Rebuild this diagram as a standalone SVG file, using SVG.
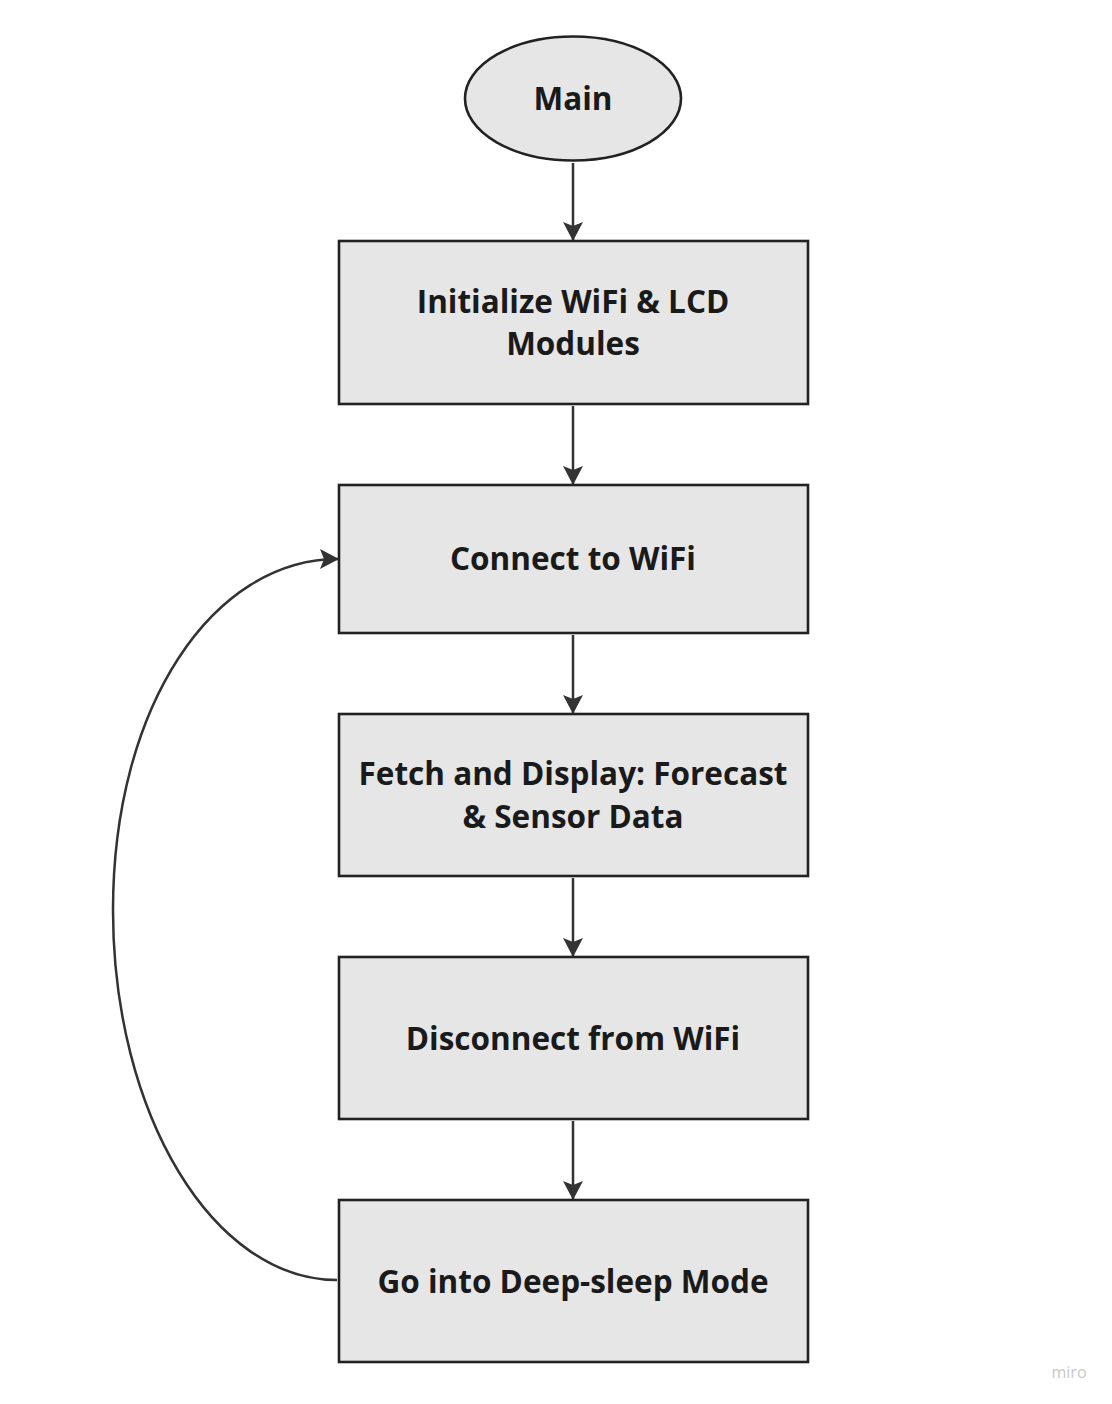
<svg xmlns="http://www.w3.org/2000/svg" width="1112" height="1404" viewBox="0 0 1112 1404">
<style>
.node{fill:#e6e6e6;stroke:#222;stroke-width:2.6}
.lbl{font-family:"Open Sans","Noto Sans",sans-serif;font-weight:700;font-size:31.5px;fill:#1a1a1a;text-anchor:middle}
.edge{fill:none;stroke:#333;stroke-width:2.5}
</style>
<defs>
<marker id="ah" viewBox="0 0 19 20" refX="18" refY="10" markerWidth="19" markerHeight="20" markerUnits="userSpaceOnUse" orient="auto">
<path d="M0,0 L19,10 L0,20 L4,10 z" fill="#333"/>
</marker>
</defs>
<rect width="1112" height="1404" fill="#fff"/>
<g id="connectors">
<line class="edge" x1="573" y1="163" x2="573" y2="240" marker-end="url(#ah)"/>
<line class="edge" x1="573" y1="406" x2="573" y2="484" marker-end="url(#ah)"/>
<line class="edge" x1="573" y1="635" x2="573" y2="713" marker-end="url(#ah)"/>
<line class="edge" x1="573" y1="878" x2="573" y2="956" marker-end="url(#ah)"/>
<line class="edge" x1="573" y1="1121" x2="573" y2="1199" marker-end="url(#ah)"/>
<path class="edge" d="M337,1280 C213,1280 113,1114 113,910 C113,706 213,559 338,559" marker-end="url(#ah)"/>
</g>
<g id="main">
<ellipse class="node" cx="573" cy="98.5" rx="108" ry="62"/>
<text class="lbl" x="573" y="110">Main</text>
</g>
<g id="init">
<rect class="node" x="339" y="241" width="469" height="163"/>
<text class="lbl" x="573" y="313">Initialize WiFi &amp; LCD</text>
<text class="lbl" x="573" y="355">Modules</text>
</g>
<g id="connect">
<rect class="node" x="339" y="485" width="469" height="148"/>
<text class="lbl" x="573" y="570">Connect to WiFi</text>
</g>
<g id="fetch">
<rect class="node" x="339" y="714" width="469" height="162"/>
<text class="lbl" x="573" y="785">Fetch and Display: Forecast</text>
<text class="lbl" x="573" y="828">&amp; Sensor Data</text>
</g>
<g id="disconnect">
<rect class="node" x="339" y="957" width="469" height="162"/>
<text class="lbl" x="573" y="1050">Disconnect from WiFi</text>
</g>
<g id="sleep">
<rect class="node" x="339" y="1200" width="469" height="162"/>
<text class="lbl" x="573" y="1293">Go into Deep-sleep Mode</text>
</g>
<text x="1069" y="1378" font-family="Open Sans, sans-serif" font-size="16" fill="#c8c8c8" text-anchor="middle">miro</text>
</svg>
